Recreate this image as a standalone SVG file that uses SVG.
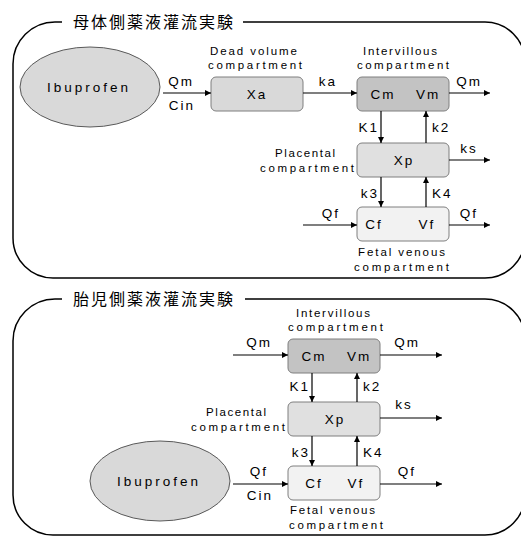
<svg xmlns="http://www.w3.org/2000/svg" width="521" height="536" viewBox="0 0 521 536">
<style>
  .frame { fill: none; stroke: #000; stroke-width: 1.5; }
  .title { font-family: "Noto Sans CJK JP", "Noto Sans CJK SC", sans-serif; font-size: 16px; fill: #000; }
  .lbl { font-family: "Liberation Sans", Arial, sans-serif; font-size: 11.5px; fill: #000; }
  .sym { font-family: "Liberation Sans", Arial, sans-serif; font-size: 13.5px; fill: #000; letter-spacing: 2px; }
  .ibu { font-family: "Liberation Sans", Arial, sans-serif; font-size: 13.5px; fill: #000; }
  .ell { fill: #d9d9d9; stroke: #595959; stroke-width: 1; }
  .box { stroke: #7f7f7f; stroke-width: 1; }
  .dead { fill: #d9d9d9; }
  .iv { fill: #c3c3c3; }
  .pl { fill: #e0e0e0; }
  .fv { fill: #f2f2f2; }
  .arr { stroke: #000; stroke-width: 1.2; fill: none; marker-end: url(#ah); }
  .c { text-anchor: middle; }
  .e { text-anchor: end; }
</style>
<defs>
  <marker id="ah" viewBox="0 0 10 10" refX="10" refY="5" markerWidth="6" markerHeight="6" markerUnits="userSpaceOnUse" orient="auto">
    <path d="M0,0 L10,5 L0,10 z" fill="#000"/>
  </marker>
</defs>

<!-- Panel frames -->
<g id="panel1">
  <path class="frame" d="M 62,22 H 55 A 42 42 0 0 0 13 64 V 238 A 40 40 0 0 0 53 278 H 485 A 40 40 0 0 0 525 238 V 62 A 40 40 0 0 0 485 22 H 243"/>
  <text class="title" x="73" y="28" textLength="160" lengthAdjust="spacing">母体側薬液灌流実験</text>
</g>
<g id="panel2">
  <path class="frame" d="M 62,299 H 55 A 42 42 0 0 0 13 341 V 495 A 40 40 0 0 0 53 535 H 485 A 40 40 0 0 0 525 495 V 339 A 40 40 0 0 0 485 299 H 245"/>
  <text class="title" x="73" y="305" textLength="160" lengthAdjust="spacing">胎児側薬液灌流実験</text>
</g>

<!-- Panel 1 nodes -->
<g id="p1-ibuprofen">
  <ellipse class="ell" cx="90" cy="87" rx="70" ry="40"/>
  <text class="ibu" x="47" y="92" textLength="81" lengthAdjust="spacing">Ibuprofen</text>
</g>
<g id="p1-dead">
  <rect class="box dead" x="211" y="77" width="92" height="34" rx="5"/>
  <text class="sym c" x="257" y="99">Xa</text>
  <text class="lbl" x="210" y="55" textLength="87" lengthAdjust="spacing">Dead volume</text>
  <text class="lbl" x="208" y="69" textLength="94" lengthAdjust="spacing">compartment</text>
</g>
<g id="p1-intervillous">
  <rect class="box iv" x="357" y="77" width="92" height="34" rx="5"/>
  <text class="sym c" x="383" y="99">Cm</text>
  <text class="sym c" x="428" y="99">Vm</text>
  <text class="lbl" x="363" y="55" textLength="74" lengthAdjust="spacing">Intervillous</text>
  <text class="lbl" x="357" y="69" textLength="92" lengthAdjust="spacing">compartment</text>
</g>
<g id="p1-placental">
  <rect class="box pl" x="357" y="143" width="92" height="34" rx="5"/>
  <text class="sym c" x="404" y="165">Xp</text>
  <text class="lbl" x="275" y="157" textLength="60" lengthAdjust="spacing">Placental</text>
  <text class="lbl" x="260" y="172" textLength="94" lengthAdjust="spacing">compartment</text>
</g>
<g id="p1-fetal">
  <rect class="box fv" x="357" y="207" width="92" height="34" rx="5"/>
  <text class="sym c" x="374" y="229">Cf</text>
  <text class="sym c" x="427" y="229">Vf</text>
  <text class="lbl" x="358" y="256" textLength="87" lengthAdjust="spacing">Fetal venous</text>
  <text class="lbl" x="354" y="271" textLength="95" lengthAdjust="spacing">compartment</text>
</g>

<!-- Panel 2 nodes -->
<g id="p2-ibuprofen">
  <ellipse class="ell" cx="160" cy="481" rx="70" ry="40"/>
  <text class="ibu" x="117" y="486" textLength="81" lengthAdjust="spacing">Ibuprofen</text>
</g>
<g id="p2-intervillous">
  <rect class="box iv" x="288" y="339" width="92" height="34" rx="5"/>
  <text class="sym c" x="314" y="361">Cm</text>
  <text class="sym c" x="359" y="361">Vm</text>
  <text class="lbl" x="296" y="317" textLength="74" lengthAdjust="spacing">Intervillous</text>
  <text class="lbl" x="288" y="331" textLength="95" lengthAdjust="spacing">compartment</text>
</g>
<g id="p2-placental">
  <rect class="box pl" x="288" y="402" width="92" height="34" rx="5"/>
  <text class="sym c" x="335" y="424">Xp</text>
  <text class="lbl" x="206" y="416" textLength="60" lengthAdjust="spacing">Placental</text>
  <text class="lbl" x="191" y="431" textLength="94" lengthAdjust="spacing">compartment</text>
</g>
<g id="p2-fetal">
  <rect class="box fv" x="288" y="466" width="92" height="34" rx="5"/>
  <text class="sym c" x="314" y="488">Cf</text>
  <text class="sym c" x="356" y="488">Vf</text>
  <text class="lbl" x="290" y="514" textLength="85" lengthAdjust="spacing">Fetal venous</text>
  <text class="lbl" x="289" y="529" textLength="94" lengthAdjust="spacing">compartment</text>
</g>

<!-- Connectors -->
<g id="connectors">
  <!-- panel 1 -->
  <line class="arr" x1="163" y1="93" x2="211" y2="93"/>
  <text class="sym c" x="181" y="86">Qm</text>
  <text class="sym c" x="182" y="110">Cin</text>
  <line class="arr" x1="303" y1="93" x2="357" y2="93"/>
  <text class="sym c" x="328" y="86">ka</text>
  <line class="arr" x1="449" y1="93" x2="490" y2="93"/>
  <text class="sym c" x="469" y="86">Qm</text>
  <line class="arr" x1="381" y1="111" x2="381" y2="143"/>
  <text class="sym e" x="379" y="132">K1</text>
  <line class="arr" x1="426" y1="143" x2="426" y2="111"/>
  <text class="sym" x="432" y="132">k2</text>
  <line class="arr" x1="449" y1="160" x2="490" y2="160"/>
  <text class="sym c" x="469" y="153">ks</text>
  <line class="arr" x1="381" y1="177" x2="381" y2="207"/>
  <text class="sym e" x="379" y="198">k3</text>
  <line class="arr" x1="426" y1="207" x2="426" y2="177"/>
  <text class="sym" x="432" y="198">K4</text>
  <line class="arr" x1="303" y1="225" x2="357" y2="225"/>
  <text class="sym c" x="331" y="218">Qf</text>
  <line class="arr" x1="449" y1="225" x2="490" y2="225"/>
  <text class="sym c" x="469" y="218">Qf</text>
  <!-- panel 2 -->
  <line class="arr" x1="233" y1="355" x2="288" y2="355"/>
  <text class="sym c" x="259" y="347">Qm</text>
  <line class="arr" x1="380" y1="355" x2="442" y2="355"/>
  <text class="sym c" x="407" y="347">Qm</text>
  <line class="arr" x1="312" y1="373" x2="312" y2="402"/>
  <text class="sym e" x="310" y="391">K1</text>
  <line class="arr" x1="357" y1="402" x2="357" y2="373"/>
  <text class="sym" x="363" y="391">k2</text>
  <line class="arr" x1="380" y1="418" x2="442" y2="418"/>
  <text class="sym c" x="404" y="409">ks</text>
  <line class="arr" x1="312" y1="436" x2="312" y2="466"/>
  <text class="sym e" x="310" y="457">k3</text>
  <line class="arr" x1="357" y1="466" x2="357" y2="436"/>
  <text class="sym" x="363" y="457">K4</text>
  <line class="arr" x1="233" y1="484" x2="288" y2="484"/>
  <text class="sym c" x="259" y="476">Qf</text>
  <text class="sym c" x="260" y="500">Cin</text>
  <line class="arr" x1="380" y1="484" x2="442" y2="484"/>
  <text class="sym c" x="407" y="476">Qf</text>
</g>
</svg>
